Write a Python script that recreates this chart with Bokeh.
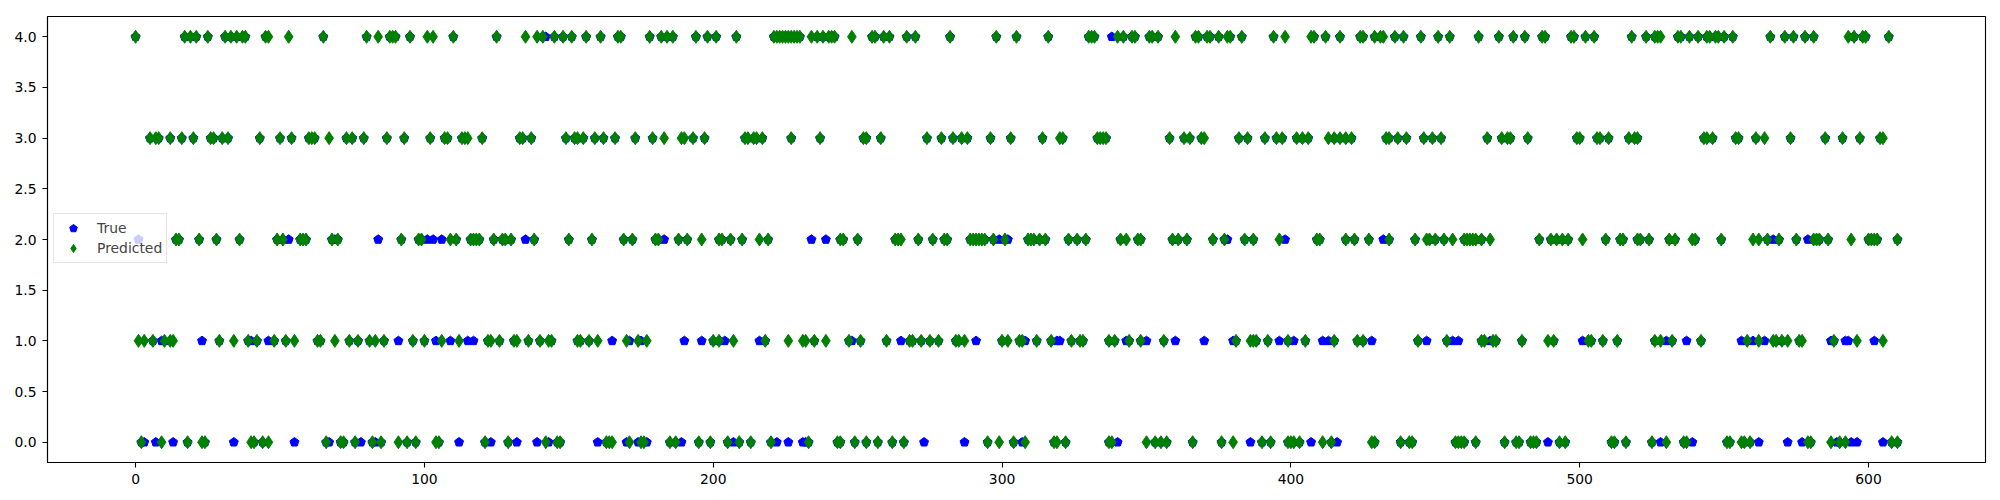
from bokeh.plotting import figure
from bokeh.models import Range1d, FixedTicker, Legend, LegendItem, ColumnDataSource, CustomJSTickFormatter
from bokeh.embed import file_html
from bokeh.resources import INLINE

# ---- data: sample indices whose predicted class is k (green diamonds) ----
pred_row4 = [0, 17, 19, 21, 25, 31, 33, 35, 37, 38, 45, 46, 53, 65,
             80, 84, 88, 89, 90, 95, 101, 103, 110, 125, 135, 139, 141, 145, 148, 151,
             156, 161, 167, 168, 178, 182, 184, 186, 194, 198, 201, 208, 221, 222, 223, 224, 225, 226, 227, 228, 229, 230,
             234, 236, 238, 240, 241, 242, 248, 255, 256, 259, 261, 267, 270, 282, 298, 305,
             316, 330, 331, 332, 340, 342, 345, 346, 351, 352, 354, 360, 367, 368, 371, 372, 375, 378, 379, 383,
             394, 398, 407, 408, 412, 417, 424, 425, 429, 431, 432, 436, 439, 445, 451, 455, 465,
             472, 477, 481, 487, 488, 497, 498, 502, 505, 518, 523, 526, 527, 528, 534, 535, 538, 541, 544,
             545, 547, 548, 550, 553, 566, 571, 574, 578, 581, 593, 595, 598, 599, 607]
pred_row3 = [5, 7, 8, 12, 16, 20, 26, 27, 30, 32, 43, 50, 54, 60, 61, 62, 67, 73, 75,
             79, 87, 93, 102, 107, 108, 113, 114, 115, 120, 133, 134, 137, 149, 152, 153,
             155, 159, 162, 166, 173, 179, 183, 189, 190, 193, 197, 211, 212, 214, 215, 217, 227,
             237, 252, 253, 258, 274, 279, 283, 286, 288, 296, 303,
             314, 320, 321, 333, 334, 335, 336, 358, 363, 365, 369, 370, 382, 385,
             391, 395, 397, 402, 404, 406, 413, 415, 417, 419, 421, 433, 434, 437, 440, 446, 449, 452,
             468, 473, 475, 476, 482, 499, 500, 506, 507, 510, 517, 519, 520, 543,
             544, 546, 554, 555, 561, 564, 573, 585, 591, 597, 604, 605]
pred_row2 = [14, 15, 22, 28, 36, 49, 51, 57, 58, 59, 68, 70,
             92, 98, 99, 109, 111, 116, 117, 118, 119, 124, 127, 128, 130, 138, 150,
             158, 169, 172, 180, 181, 188, 191, 196, 202, 203, 206, 210, 216, 219,
             244, 245, 250, 263, 264, 265, 271, 276, 280, 281, 289, 290, 291, 292, 293, 294, 297, 301, 309,
             310, 311, 313, 315, 323, 326, 329, 341, 343, 347, 348, 359, 361, 364, 373, 377, 384, 387,
             396, 409, 410, 419, 422, 427, 434, 443, 447, 448, 450, 453, 456, 460, 461, 462, 463, 464,
             466, 469, 486, 490, 492, 494, 496, 501, 509, 514, 515, 520, 521, 524, 531, 533, 539, 540,
             549, 560, 562, 565, 569, 575, 581, 582, 583, 586, 594, 600, 601, 602, 603, 610]
pred_row1 = [1, 3, 6, 10, 12, 13, 29, 34, 39, 42, 48, 52, 55, 63, 64, 69, 74,
             77, 81, 83, 86, 96, 100, 106, 112, 122, 123, 126, 131, 132, 136, 140, 143, 144, 154,
             153, 157, 160, 170, 174, 177, 200, 202, 207, 218, 226, 231,
             232, 235, 239, 247, 251, 260, 268, 269, 272, 275, 278, 284, 285, 287, 300, 302, 306, 307,
             312, 317, 324, 327, 328, 337, 339, 344, 348, 356, 381, 386, 388,
             387, 392, 399, 405, 415, 423, 425, 444, 454, 466,
             467, 470, 471, 480, 489, 491, 503, 504, 508, 513, 526, 528, 532, 542,
             558, 562, 567, 568, 570, 572, 576, 577, 588, 596, 605]
pred_row0 = [2, 9, 18, 23, 24, 40, 41, 44, 46, 66, 71, 72, 76,
             82, 85, 91, 94, 97, 104, 105, 121, 129, 142, 146, 147,
             163, 164, 165, 171, 175, 176, 185, 187, 195, 199, 205, 209, 213, 220,
             233, 243, 244, 249, 253, 257, 262, 266, 295, 299, 304, 308,
             318, 319, 322, 337, 338, 350, 353, 355, 357, 366, 376, 380,
             390, 393, 399, 400, 401, 403, 411, 414, 428, 429, 438, 441, 442, 457, 458, 459, 460, 464,
             474, 478, 479, 483, 484, 485, 493, 495, 511, 512, 516, 525, 530, 536, 537,
             551, 552, 556, 557, 559, 579, 580, 587, 590, 592, 608, 610]

# ---- data: indices whose true class is k but the prediction differs (visible blue) ----
true_miss_row4 = [142, 338]
true_miss_row3 = []
true_miss_row2 = [1, 53, 69, 84, 101, 103, 106, 135, 183, 234, 239, 299, 302, 378, 398, 432, 567, 579]
true_miss_row1 = [9, 23, 40, 46, 91, 104, 109, 115, 117, 165, 171, 175, 190, 196, 204, 216,
                  248, 265, 291, 308, 319, 320, 343, 350, 360, 370, 380,
                  396, 401, 411, 413, 428, 447, 456, 458, 469, 501, 530, 537,
                  556, 560, 564, 587, 592, 593, 602]
true_miss_row0 = [3, 7, 13, 34, 55, 67, 78, 83, 112, 123, 132, 139, 143,
                  160, 170, 174, 177, 189, 207, 222, 226, 232, 231, 273, 287, 307,
                  340, 386, 407, 416, 489, 528, 539, 562, 572, 577, 589, 594, 596, 605]

y_ticks = [0.0, 0.5, 1.0, 1.5, 2.0, 2.5, 3.0, 3.5, 4.0]
x_ticks = [0, 100, 200, 300, 400, 500, 600]

pred_rows = {0: pred_row0, 1: pred_row1, 2: pred_row2, 3: pred_row3, 4: pred_row4}
miss_rows = {0: true_miss_row0, 1: true_miss_row1, 2: true_miss_row2, 3: true_miss_row3, 4: true_miss_row4}

pred_x, pred_y = [], []
for k, idx in pred_rows.items():
    pred_x += idx
    pred_y += [k] * len(idx)

miss_set = set()
true_x, true_y = [], []
for k, idx in miss_rows.items():
    true_x += idx
    true_y += [k] * len(idx)
    miss_set.update(idx)
for x, y in zip(pred_x, pred_y):
    if x not in miss_set:
        true_x.append(x)
        true_y.append(y)

p = figure(frame_width=1938, frame_height=446,
           x_range=Range1d(-30.5, 640.5), y_range=Range1d(-0.2, 4.2),
           output_backend="svg", toolbar_location=None,
           min_border_left=47, min_border_top=16, min_border_right=2, min_border_bottom=26)
p.xgrid.visible = False
p.ygrid.visible = False
p.outline_line_color = "black"
p.outline_line_width = 1.1
p.background_fill_color = "white"

for ax in (p.xaxis[0], p.yaxis[0]):
    ax.axis_line_color = "black"
    ax.axis_line_width = 1.1
    ax.major_tick_line_width = 1.1
    ax.major_tick_in = 0
    ax.major_tick_out = 5
    ax.minor_tick_line_color = None
    ax.major_label_text_font = "DejaVu Sans"
    ax.major_label_text_font_size = "13.9px"
    ax.major_label_text_color = "black"
    ax.major_label_standoff = 6
p.xaxis.ticker = FixedTicker(ticks=x_ticks)
p.yaxis.ticker = FixedTicker(ticks=y_ticks)
p.yaxis.formatter = CustomJSTickFormatter(code="return tick.toFixed(1);")
p.xaxis.formatter = CustomJSTickFormatter(code="return tick.toFixed(0);")

src_true = ColumnDataSource(dict(x=true_x, y=true_y))
src_pred = ColumnDataSource(dict(x=pred_x, y=pred_y))

r_true = p.ngon(x="x", y="y", radius=4.7, radius_units="screen", n=5, angle=0,
                fill_color="#0000ff", line_color="#0000ff", line_width=1, source=src_true)
r_pred = p.scatter(x="x", y="y", marker="diamond", size=13, fill_color="#008000",
                   line_color="#008000", line_width=1, source=src_pred)

legend = Legend(items=[LegendItem(label="True", renderers=[r_true]),
                       LegendItem(label="Predicted", renderers=[r_pred])],
                location=(6, 199), orientation="vertical",
                label_text_font="DejaVu Sans", label_text_font_size="13.9px",
                glyph_width=30, glyph_height=20, label_height=20, label_standoff=9,
                spacing=0, padding=4, margin=0,
                background_fill_alpha=0.8, border_line_color="#cccccc", border_line_width=1)
p.add_layout(legend)

open("out.html", "w").write(file_html(p, INLINE))
